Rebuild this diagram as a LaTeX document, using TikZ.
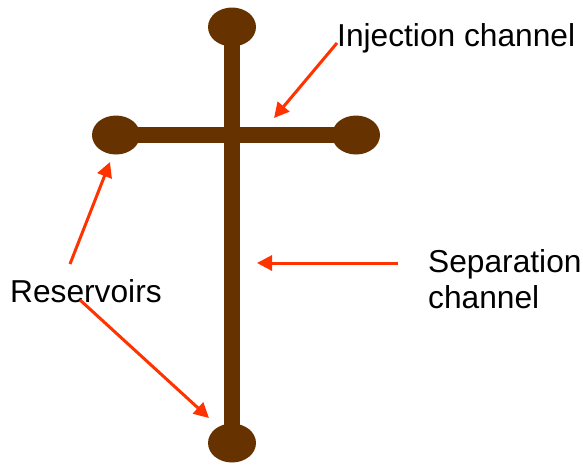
\documentclass[tikz,border=0pt]{standalone}
\usepackage{fontspec}
\setmainfont{Liberation Sans}
\usepackage{xcolor}
\usepackage{tikz}
\usetikzlibrary{arrows.meta,shapes.geometric,calc}

\definecolor{chipbrown}{HTML}{663300}
\definecolor{pointred}{HTML}{FF3300}

\begin{document}
\begin{tikzpicture}
[x = 1pt, y = -1pt,
 reservoir/.style = {ellipse, fill = chipbrown, inner sep = 0pt,
                     minimum width = 48pt, minimum height = 39pt},
 channel/.style = {draw = chipbrown, line width = 16pt},
 pointer/.style = {draw = pointred, line width = 3pt,
                   -{Triangle[length = 15pt, width = 15pt]}},
 label/.style = {inner sep = 0pt, font = \fontsize{31.7}{36}\selectfont}]

\useasboundingbox (0, 0) rectangle (583, 464);

\node[reservoir] (R1) at (232, 27) {};
\node[reservoir] (R2) at (116, 135) {};
\node[reservoir] (R3) at (356, 135) {};
\node[reservoir] (R4) at (232, 443) {};

\draw[channel] (R1.center) to (R4.center);
\draw[channel] (R2.center) to (R3.center);

\node[label, anchor = base west] (L1) at (337, 46) {Injection channel};
\node[label, anchor = base west, align = left] (L2) at (428, 308) {Separation\\channel};
\node[label, anchor = base west] (L3) at (10, 302) {Reservoirs};

\coordinate (T1) at (274, 118);
\coordinate (T2) at (257, 263);
\coordinate (T3) at (110, 162);
\coordinate (T4) at (209, 418);

\draw[pointer] ([yshift = 3pt]L1.base west) to (T1);
\draw[pointer] ([xshift = -30pt, yshift = 45pt]L2.base west) to (T2);
\draw[pointer] ([xshift = 60pt, yshift = 38pt]L3.base west) to (T3);
\draw[pointer] ([xshift = 70pt, yshift = 2pt]L3.base west) to (T4);

\end{tikzpicture}
\end{document}
